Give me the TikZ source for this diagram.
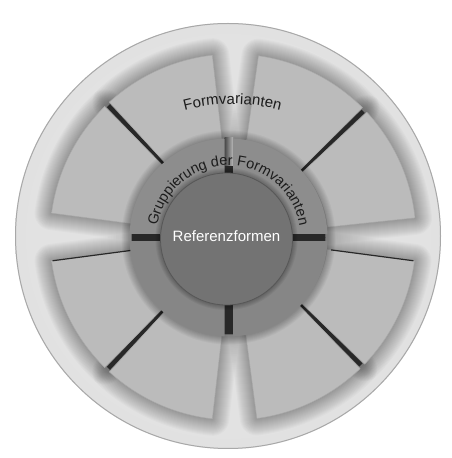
\documentclass[tikz,border=0pt]{standalone}
\usepackage{fontspec}
\setmainfont{Liberation Sans}
\usetikzlibrary{calc,decorations.text}
\definecolor{bgA}{HTML}{E2E2E2}
\definecolor{bgB}{HTML}{DADADA}
\definecolor{bgC}{HTML}{CFCFCF}
\definecolor{bgD}{HTML}{C2C2C2}
\definecolor{rimcol}{HTML}{A8A8A8}
\definecolor{pA}{HTML}{BBBBBB}
\definecolor{pB}{HTML}{C7C7C7}
\definecolor{pC}{HTML}{D1D1D1}
\definecolor{pedge}{HTML}{A8A8A8}
\definecolor{gapdark}{HTML}{282828}
\definecolor{gapmid}{HTML}{474747}
\definecolor{gaplight}{HTML}{B8B8B8}
\definecolor{ringU}{HTML}{8D8D8D}
\definecolor{ringL}{HTML}{868686}
\definecolor{cA}{HTML}{737373}
\definecolor{cB}{HTML}{656565}
\definecolor{cedge}{HTML}{575757}
\definecolor{txt}{HTML}{1C1C1C}
\pgfdeclareradialshading{bigshade}{\pgfpoint{0bp}{0bp}}{color(0bp)=(bgA); color(23bp)=(bgA); color(35bp)=(bgB); color(45bp)=(bgC); color(50bp)=(bgD)}
\pgfdeclareradialshading{petalshade}{\pgfpoint{0bp}{0bp}}{color(0bp)=(pA); color(27bp)=(pA); color(36bp)=(pB); color(50bp)=(pC)}
\pgfdeclareradialshading{centshade}{\pgfpoint{0bp}{0bp}}{color(0bp)=(cA); color(35bp)=(cA); color(50bp)=(cB)}
\newcommand\ringfont{\fontsize{14.5}{14.5}\selectfont\color{txt}}
\newcommand\petfont{\fontsize{15}{15}\selectfont\color{txt}}
\begin{document}
\begin{tikzpicture}[x=1pt,y=1pt,
  softshadow/.style={line width=#1, black, draw opacity=0.02, line join=round},
  petaledge/.style={draw=pedge, line width=0.5},
  darkline/.style={draw=gapdark, line width=1.2}]
\useasboundingbox (0,0) rectangle (451,458);
\fill[white] (0,0) rectangle (451,458);
\coordinate (bc) at (228,222);
\coordinate (pc) at (233,221);
\coordinate (rc) at (228.5,220.5);
\coordinate (cc) at (226.5,219);
\coordinate (fc) at (232.5,169);
% big disc
\shade[shading=bigshade] (bc) circle[radius=213];
\draw[rimcol, line width=1] (bc) circle[radius=212.5];
% soft shadows of petals
\foreach \a/\b in {6/43,45/82,96.5/132.5,134.5/172.5,187.5/225.5,227.5/263.5,277.5/314,316/352.5}{
  \foreach \w in {2,4,...,34}{
    \draw[softshadow=\w] ($(pc)+(\a:95)$) arc[start angle=\a, end angle=\b, radius=95]
      -- ($(pc)+(\b:183)$) arc[start angle=\b, end angle=\a, radius=183] -- cycle;
  }
}
% dark diagonal gaps
\foreach \a/\b in {43/45,132.5/134.5,225.5/227.5,314/316}{
  \fill[gapdark] ($(pc)+(\a:95)$) arc[start angle=\a, end angle=\b, radius=95]
    -- ($(pc)+(\b-0.3:181)$) -- ($(pc)+(\a+0.3:181)$) -- cycle;
}
% petals
\foreach \a/\b in {6/43,45/82,96.5/132.5,134.5/172.5,187.5/225.5,227.5/263.5,277.5/314,316/352.5}{
  \begin{scope}
    \clip ($(pc)+(\a:95)$) arc[start angle=\a, end angle=\b, radius=95]
      -- ($(pc)+(\b:183)$) arc[start angle=\b, end angle=\a, radius=183] -- cycle;
    \shade[shading=petalshade] (pc) circle[radius=183];
  \end{scope}
  \draw[petaledge] ($(pc)+(\a:95)$) arc[start angle=\a, end angle=\b, radius=95]
      -- ($(pc)+(\b:183)$) arc[start angle=\b, end angle=\a, radius=183] -- cycle;
}
% dark top edges of the lower side petals
\draw[darkline] ($(pc)+(187.5:99)$) -- ($(pc)+(187.5:182)$);
\draw[darkline] ($(pc)+(352.5:99)$) -- ($(pc)+(352.5:182)$);
% shadow of the ring on the petals
\foreach \w in {2,4,...,16}{
  \draw[line width=\w, black, draw opacity=0.035] (rc) circle[radius=99];
}
% dark under the ring gaps
\fill[gapdark, even odd rule] (rc) circle[radius=97] (rc) circle[radius=60];
% lighter top gap of the ring
\shade[left color=gapmid, right color=gaplight] (224.5,292) rectangle (233,320);
% ring quadrants
\begin{scope}
  \clip (233,224.5) rectangle (340,330);
  \fill[ringU] (rc) circle[radius=99];
\end{scope}
\begin{scope}
  \clip (224.5,224.5) rectangle (110,330);
  \fill[ringU] (rc) circle[radius=99];
\end{scope}
\begin{scope}
  \clip (224.5,216.5) rectangle (110,110);
  \fill[ringL] (rc) circle[radius=99];
\end{scope}
\begin{scope}
  \clip (233,216.5) rectangle (340,110);
  \fill[ringL] (rc) circle[radius=99];
\end{scope}
% shadow of the centre disc on the ring
\foreach \w in {2,4,...,10}{
  \draw[line width=\w, black, draw opacity=0.05] (cc) circle[radius=66];
}
% centre disc
\shade[shading=centshade] (cc) circle[radius=66];
\draw[cedge, line width=0.8] (cc) circle[radius=66];
\node[text=white, font=\fontsize{15}{15}\selectfont, inner sep=0pt] (ref) at (226.5,221.5) {Referenzformen};
% curved labels
\path[decorate, decoration={text along path, text align=center,
   text={|\ringfont|Gruppierung der Formvarianten}}]
   ($(rc)+(176:72)$) arc[start angle=176, end angle=4, radius=72];
\path[decorate, decoration={text along path, text align=center,
   text={|\petfont|Formvarianten}}]
   ($(fc)+(110:185)$) arc[start angle=110, end angle=70, radius=185];
\end{tikzpicture}
\end{document}
